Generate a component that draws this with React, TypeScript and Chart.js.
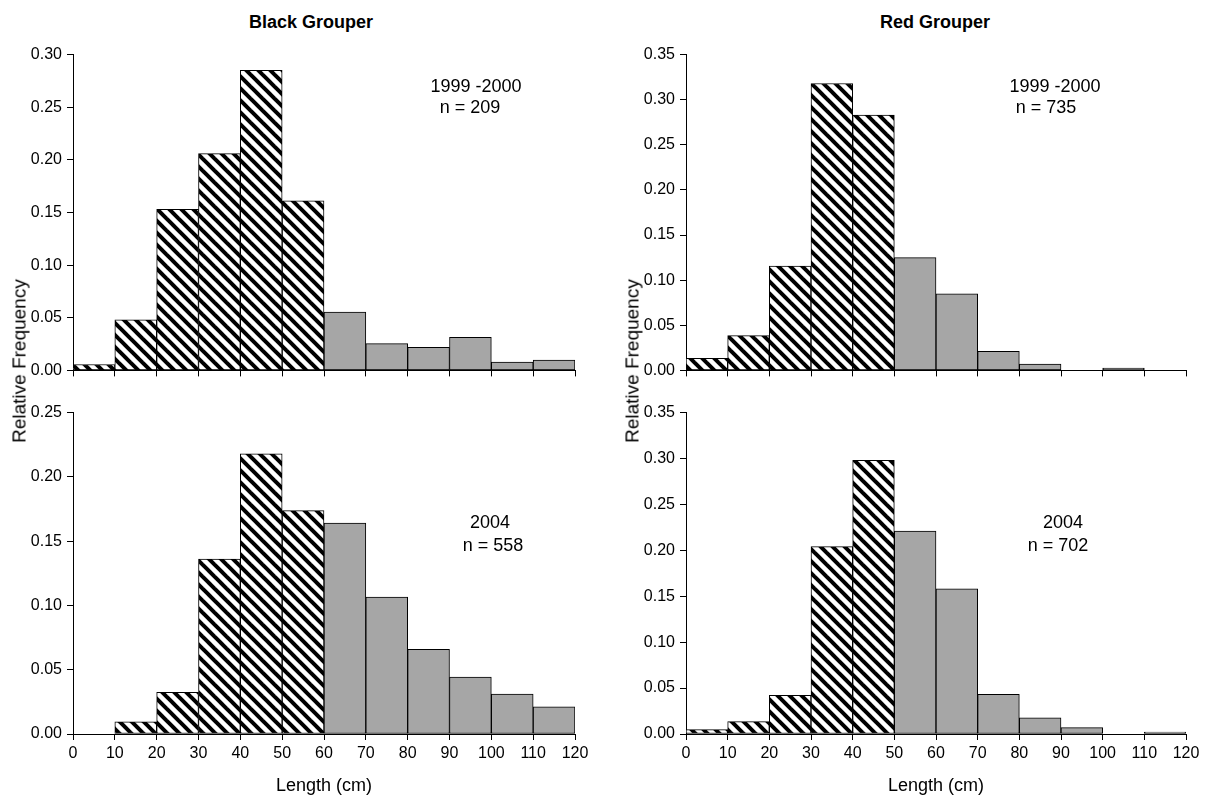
import React, { useEffect, useRef } from 'react';
import { Chart, registerables } from 'chart.js';

Chart.register(...registerables);

// ---------- data ----------
const binCenters = [5, 15, 25, 35, 45, 55, 65, 75, 85, 95, 105, 115];
const xMin = 0;
const xMax = 120;
const xStep = 10;

const blackGrouper19992000 = [0.0056, 0.048, 0.153, 0.206, 0.285, 0.161, 0.0555, 0.0255, 0.022, 0.0315, 0.0078, 0.0097];
const redGrouper19992000 = [0.0134, 0.0385, 0.1155, 0.318, 0.283, 0.125, 0.085, 0.021, 0.007, 0, 0.0025, 0];
const blackGrouper2004 = [0, 0.0095, 0.0324, 0.136, 0.218, 0.1737, 0.164, 0.1066, 0.0658, 0.0442, 0.0311, 0.0211];
const redGrouper2004 = [0.0047, 0.0134, 0.042, 0.204, 0.298, 0.221, 0.158, 0.0433, 0.0177, 0.0069, 0, 0.0022];

const speciesTitles = ['Black Grouper', 'Red Grouper'];
const periodLabels = ['1999 -2000', '2004'];
const sampleSizes = ['n = 209', 'n = 735', 'n = 558', 'n = 702'];
const yMaxima = [0.3, 0.35, 0.25, 0.35];
const hatchBelow = [60, 50]; // lengths below this (cm) are hatched: black, red
const yStep = 0.05;
const yAxisTitle = 'Relative Frequency';
const xAxisTitle = 'Length (cm)';

const FONT = '"Liberation Sans", Arial, Helvetica, sans-serif';
const GRAY = '#a6a6a6';

function makeHatch(): CanvasPattern | string {
  const s = 12;
  const c = document.createElement('canvas');
  c.width = s;
  c.height = s;
  const g = c.getContext('2d');
  if (!g) return '#fff';
  g.fillStyle = '#fff';
  g.fillRect(0, 0, s, s);
  g.strokeStyle = '#000';
  g.lineWidth = 4;
  for (let k = -1; k <= 1; k++) {
    g.beginPath();
    g.moveTo(-2, k * s - 2);
    g.lineTo(s + 2, s + k * s + 2);
    g.stroke();
  }
  const p = g.createPattern(c, 'repeat');
  return p || '#000';
}

type PanelProps = {
  values: number[];
  yMax: number;
  cutoff: number;
  showX: boolean;
  left: number;
  top: number;
  width: number;
  height: number;
  yAxisWidth: number;
  xAxisHeight: number;
  padRight: number;
};

function Panel(props: PanelProps) {
  const ref = useRef<HTMLCanvasElement>(null);
  useEffect(() => {
    if (!ref.current) return;
    const hatch = makeHatch();
    const chart = new Chart(ref.current, {
      type: 'bar',
      data: {
        datasets: [
          {
            data: binCenters.map((x, i) => ({ x, y: props.values[i] })),
            backgroundColor: binCenters.map((x) => (x < props.cutoff ? hatch : GRAY)) as any,
            borderColor: '#000',
            borderWidth: 1,
            borderSkipped: false,
            barPercentage: 1,
            categoryPercentage: 1,
          } as any,
        ],
      },
      options: {
        animation: false,
        responsive: false,
        maintainAspectRatio: false,
        events: [],
        layout: { padding: { top: 12, right: props.padRight, left: 0, bottom: 0 } },
        plugins: { legend: { display: false }, tooltip: { enabled: false }, title: { display: false } },
        scales: {
          x: {
            type: 'linear',
            min: xMin,
            max: xMax,
            offset: false,
            ticks: {
              stepSize: xStep,
              display: props.showX,
              color: '#000',
              font: { family: FONT, size: 16 },
              padding: 4,
              maxRotation: 0,
              autoSkip: false,
            },
            grid: { display: true, offset: false, drawOnChartArea: false, drawTicks: true, tickLength: 6, color: '#000' },
            border: { display: true, color: '#000', width: 1 },
            title: {
              display: props.showX,
              text: xAxisTitle,
              color: '#000',
              font: { family: FONT, size: 18 },
              padding: { top: 0, bottom: 0 },
            },
            afterFit: (s: any) => {
              s.height = props.xAxisHeight;
            },
          },
          y: {
            type: 'linear',
            min: 0,
            max: props.yMax,
            ticks: {
              stepSize: yStep,
              color: '#000',
              font: { family: FONT, size: 16 },
              padding: 5,
              callback: (v: any) => Number(v).toFixed(2),
            },
            grid: { display: true, offset: false, drawOnChartArea: false, drawTicks: true, tickLength: 6, color: '#000' },
            border: { display: true, color: '#000', width: 1 },
            afterFit: (s: any) => {
              s.width = props.yAxisWidth;
            },
          },
        },
      } as any,
    });
    return () => chart.destroy();
  }, []);
  return (
    <canvas
      ref={ref}
      width={props.width}
      height={props.height}
      style={{ position: 'absolute', left: props.left, top: props.top, width: props.width, height: props.height }}
    />
  );
}

function Label(p: { text: string; x: number; y: number; size: number; bold?: boolean; rotate?: boolean }) {
  return (
    <div
      style={{
        position: 'absolute',
        left: p.x,
        top: p.y,
        transform: `translate(-50%, -50%)${p.rotate ? ' rotate(-90deg)' : ''}`,
        fontFamily: FONT,
        fontSize: p.size,
        fontWeight: p.bold ? 'bold' : 'normal',
        whiteSpace: 'nowrap',
        color: '#000',
        lineHeight: 1,
      }}
    >
      {p.text}
    </div>
  );
}

export default function App() {
  useEffect(() => {
    document.body.style.margin = '0';
    document.body.style.overflow = 'hidden';
    document.body.style.background = '#fff';
  }, []);
  return (
    <div style={{ position: 'absolute', left: 0, top: 0, width: 1207, height: 801, overflow: 'hidden', background: '#fff' }}>
      <Panel values={blackGrouper19992000} yMax={yMaxima[0]} cutoff={hatchBelow[0]} showX={false}
        left={0} top={40} width={600} height={345} yAxisWidth={73} xAxisHeight={12} padRight={25} />
      <Panel values={redGrouper19992000} yMax={yMaxima[1]} cutoff={hatchBelow[1]} showX={false}
        left={612} top={40} width={595} height={345} yAxisWidth={74} xAxisHeight={12} padRight={21} />
      <Panel values={blackGrouper2004} yMax={yMaxima[2]} cutoff={hatchBelow[0]} showX={true}
        left={0} top={398} width={600} height={399} yAxisWidth={73} xAxisHeight={63} padRight={25} />
      <Panel values={redGrouper2004} yMax={yMaxima[3]} cutoff={hatchBelow[1]} showX={true}
        left={612} top={398} width={595} height={399} yAxisWidth={74} xAxisHeight={63} padRight={21} />

      <Label text={speciesTitles[0]} x={311} y={22} size={18} bold />
      <Label text={speciesTitles[1]} x={935} y={22} size={18} bold />

      <Label text={periodLabels[0]} x={476} y={86} size={18} />
      <Label text={sampleSizes[0]} x={470} y={107} size={18} />
      <Label text={periodLabels[0]} x={1055} y={86} size={18} />
      <Label text={sampleSizes[1]} x={1046} y={107} size={18} />
      <Label text={periodLabels[1]} x={490} y={522} size={18} />
      <Label text={sampleSizes[2]} x={493} y={545} size={18} />
      <Label text={periodLabels[1]} x={1063} y={522} size={18} />
      <Label text={sampleSizes[3]} x={1058} y={545} size={18} />

      <Label text={yAxisTitle} x={19} y={361} size={19} rotate />
      <Label text={yAxisTitle} x={632} y={361} size={19} rotate />
    </div>
  );
}
